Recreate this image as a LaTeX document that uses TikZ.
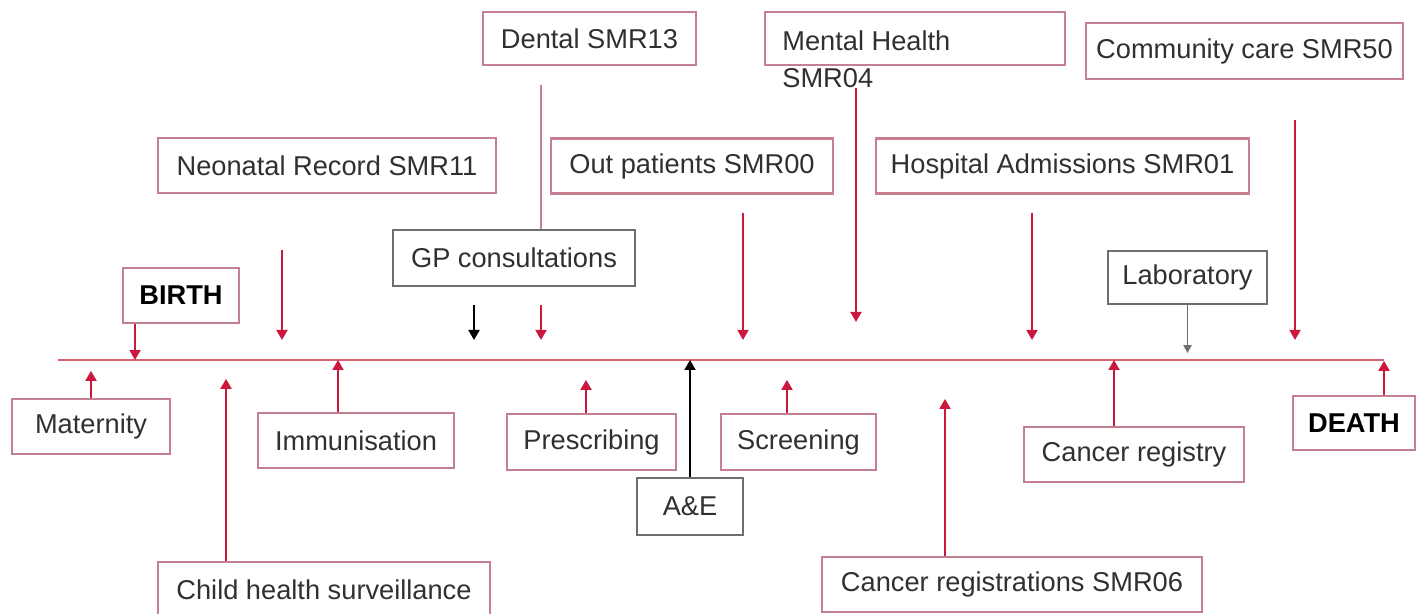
\documentclass[tikz,border=0pt]{standalone}
\usepackage{fontspec}
\setmainfont{Liberation Sans}
\usetikzlibrary{arrows.meta}
\definecolor{boxred}{RGB}{196,128,144}
\definecolor{arrred}{RGB}{204,24,60}
\definecolor{linered}{RGB}{214,96,116}
\definecolor{boxgray}{RGB}{110,110,110}
\definecolor{txtgray}{RGB}{48,48,48}

\begin{document}
\begin{tikzpicture}[x=0.02cm, y=-0.02cm, >={Triangle[width=0.22cm,length=0.2cm]},
  every node/.style={font=\fontsize{15.5}{21.5}\selectfont, text=txtgray},
  rbox/.style={draw=boxred, line width=1.3pt, minimum height=1.1cm, inner sep=0pt},
  gbox/.style={rbox, draw=boxgray},
  redarr/.style={->, draw=arrred, line width=1.1pt},
  blkarr/.style={->, draw=black, line width=1.1pt}]
\useasboundingbox (0,0) rectangle (1416,614);
\node[rbox, minimum width=4.26cm, minimum height=1.06cm] (dental) at (589.5,38.5) {Dental SMR13};
\node[rbox, minimum width=6cm, minimum height=1.06cm] (mental) at (915,38.5) {};
\node[anchor=base west, align=left, inner sep=0pt] (mentaltxt) at (782,88) {Mental Health\\SMR04};
\node[rbox, minimum width=6.34cm, minimum height=1.12cm] (community) at (1244.5,51) {Community care SMR50};
\node[rbox, minimum width=6.76cm] (neonatal) at (327,165.5) {Neonatal Record SMR11};
\node[rbox, minimum width=5.64cm] (outpat) at (692,166) {Out patients SMR00};
\node[rbox, minimum width=7.46cm] (hospital) at (1062.5,166) {Hospital Admissions SMR01};
\node[gbox, minimum width=4.84cm, minimum height=1.12cm] (gp) at (514,258) {GP consultations};
\node[rbox, minimum width=2.32cm] (birth) at (181,295.5) {\textbf{\color{black}BIRTH}};
\node[gbox, minimum width=3.18cm, minimum height=1.06cm] (lab) at (1187.5,277.5) {Laboratory};
\node[rbox, minimum width=3.16cm] (matern) at (91,426.5) {Maternity};
\node[rbox, minimum width=3.92cm] (immun) at (356,440.5) {Immunisation};
\node[rbox, minimum width=3.38cm, minimum height=1.12cm] (presc) at (591.5,442) {Prescribing};
\node[rbox, minimum width=3.1cm, minimum height=1.12cm] (screen) at (798.5,442) {Screening};
\node[gbox, minimum width=2.12cm, minimum height=1.14cm] (ae) at (690,506.5) {A\&E};
\node[rbox, minimum width=4.4cm] (cregistry) at (1134,454.5) {Cancer registry};
\node[rbox, minimum width=2.44cm, minimum height=1.08cm] (death) at (1354,423) {\textbf{\color{black}DEATH}};
\node[rbox, minimum width=6.64cm] (child) at (324,589.5) {Child health surveillance};
\node[rbox, minimum width=7.6cm] (cregs) at (1012,584.5) {Cancer registrations SMR06};

\coordinate (tl0) at (58,360);
\coordinate (tl1) at (1384,360);
\draw[linered, line width=1.3pt] (tl0) -- (tl1);

\foreach \n/\x/\a/\b in {neo/282/250/340, dent/541/305/340, outp/743/213/340,
    ment/856/88/322, hosp/1032/213/340, comm/1295/120/340} {
  \coordinate (\n top) at (\x,\a);
  \coordinate (\n tip) at (\x,\b);
  \draw[redarr] (\n top) -- (\n tip);
}
\coordinate (dentline) at (541,85);
\draw[boxred, line width=1.1pt] (dentline) -- (dentline |- gp.north);
\coordinate (gptop) at (474,305);
\coordinate (gptip) at (474,340);
\draw[blkarr] (gptop) -- (gptip);
\draw[->, draw=boxgray, line width=1.1pt, >={Triangle[width=0.16cm,length=0.16cm]}] (lab.south) -- ++(0,48);

\draw[redarr] ([xshift=-0.92cm]birth.south) -- ([xshift=-0.92cm]birth.south |- tl0);
\draw[redarr] (matern.north) -- ++(0,-27);
\draw[redarr] ([xshift=-1.96cm]child.north) -- ++(0,-182);
\draw[redarr] ([xshift=-0.36cm]immun.north) -- ([xshift=-0.36cm]immun.north |- tl0);
\draw[redarr] ([xshift=-0.11cm]presc.north) -- ++(0,-33);
\draw[blkarr] (ae.north) -- (ae.north |- tl0);
\draw[redarr] ([xshift=-0.23cm]screen.north) -- ++(0,-33);
\draw[redarr] ([xshift=-1.34cm]cregs.north) -- ++(0,-157);
\draw[redarr] ([xshift=-0.4cm]cregistry.north) -- ([xshift=-0.4cm]cregistry.north |- tl0);
\draw[redarr] ([xshift=0.6cm]death.north) -- ++(0,-34);
\end{tikzpicture}
\end{document}
